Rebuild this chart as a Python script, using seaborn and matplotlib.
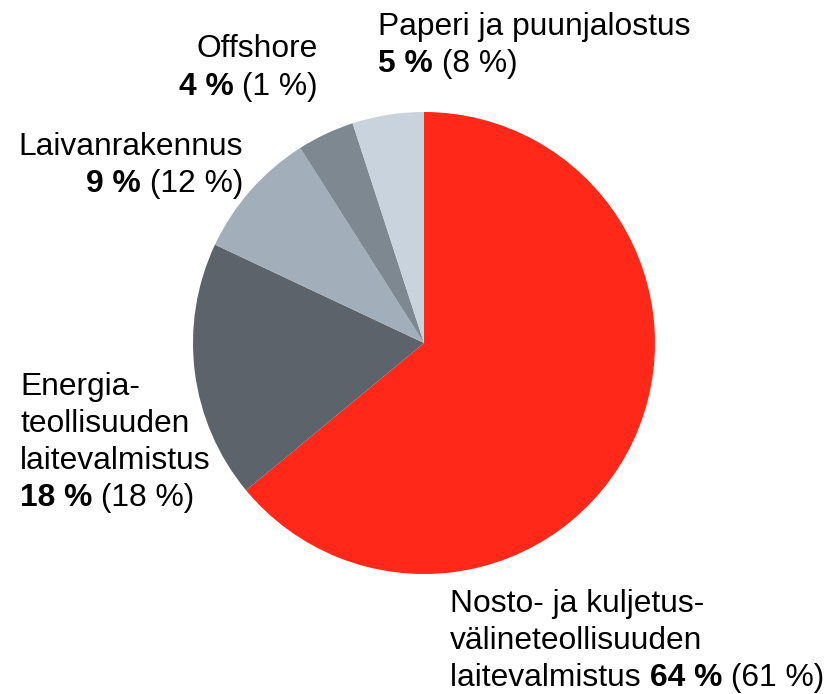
import matplotlib
matplotlib.use("Agg")
import matplotlib.pyplot as plt
import seaborn as sns

# Toimialat, osuus nyt ja (edellinen vuosi)
sectors = ["Nosto- ja kuljetusvälineteollisuuden laitevalmistus",
           "Energiateollisuuden laitevalmistus",
           "Laivanrakennus", "Offshore", "Paperi ja puunjalostus"]
share = [64, 18, 9, 4, 5]
share_prev = [61, 18, 12, 1, 8]
colors = ["#FF2819", "#5C636B", "#A2AFBA", "#7D8891", "#C8D3DD"]

sns.set_style("white")
plt.rcParams["font.family"] = ["Liberation Sans", "DejaVu Sans"]
plt.rcParams["text.color"] = "black"

W, H = 838, 694
fig = plt.figure(figsize=(W / 100, H / 100), dpi=100)
ax = fig.add_axes([0, 0, 1, 1])

ax.pie(share, colors=colors, startangle=90, counterclock=False,
       center=(424, H - 343), radius=231,
       wedgeprops=dict(linewidth=0))
ax.set_xlim(0, W)
ax.set_ylim(0, H)
ax.set_aspect("equal")
ax.axis("off")

FS = 22.9


def line(x, y, pieces, ha="left"):
    # pieces: list of (text, bold); y = baseline in pixels from top
    y = H - y
    if ha == "left":
        prev = ax.text(x, y, pieces[0][0], fontsize=FS, va="baseline", ha="left",
                       color="black",
                       fontweight="bold" if pieces[0][1] else "normal")
        for txt, b in pieces[1:]:
            prev = ax.annotate(txt, xy=(1, 0), xycoords=prev, fontsize=FS,
                               va="bottom", ha="left", color="black",
                               fontweight="bold" if b else "normal")
    else:
        prev = ax.text(x, y, pieces[-1][0], fontsize=FS, va="baseline", ha="right",
                       color="black",
                       fontweight="bold" if pieces[-1][1] else "normal")
        for txt, b in reversed(pieces[:-1]):
            prev = ax.annotate(txt, xy=(0, 0), xycoords=prev, fontsize=FS,
                               va="bottom", ha="right", color="black",
                               fontweight="bold" if b else "normal")


def val(i):
    return [(f"{share[i]} %", True), (f" ({share_prev[i]} %)", False)]


# Paperi ja puunjalostus
line(378, 35, [("Paperi ja puunjalostus", False)])
line(378, 72, val(4))
# Offshore
line(318, 57, [("Offshore", False)], ha="right")
line(318, 95, val(3), ha="right")
# Laivanrakennus
line(243, 155, [("Laivanrakennus", False)], ha="right")
line(243, 192, val(2), ha="right")
# Energia
line(20, 395, [("Energia-", False)])
line(20, 432, [("teollisuuden", False)])
line(20, 469, [("laitevalmistus", False)])
line(20, 506, val(1))
# Nosto
line(450, 612, [("Nosto- ja kuljetus-", False)])
line(450, 649, [("välineteollisuuden", False)])
line(450, 686, [("laitevalmistus ", False)] + val(0))

fig.savefig("out.png", dpi=100)
